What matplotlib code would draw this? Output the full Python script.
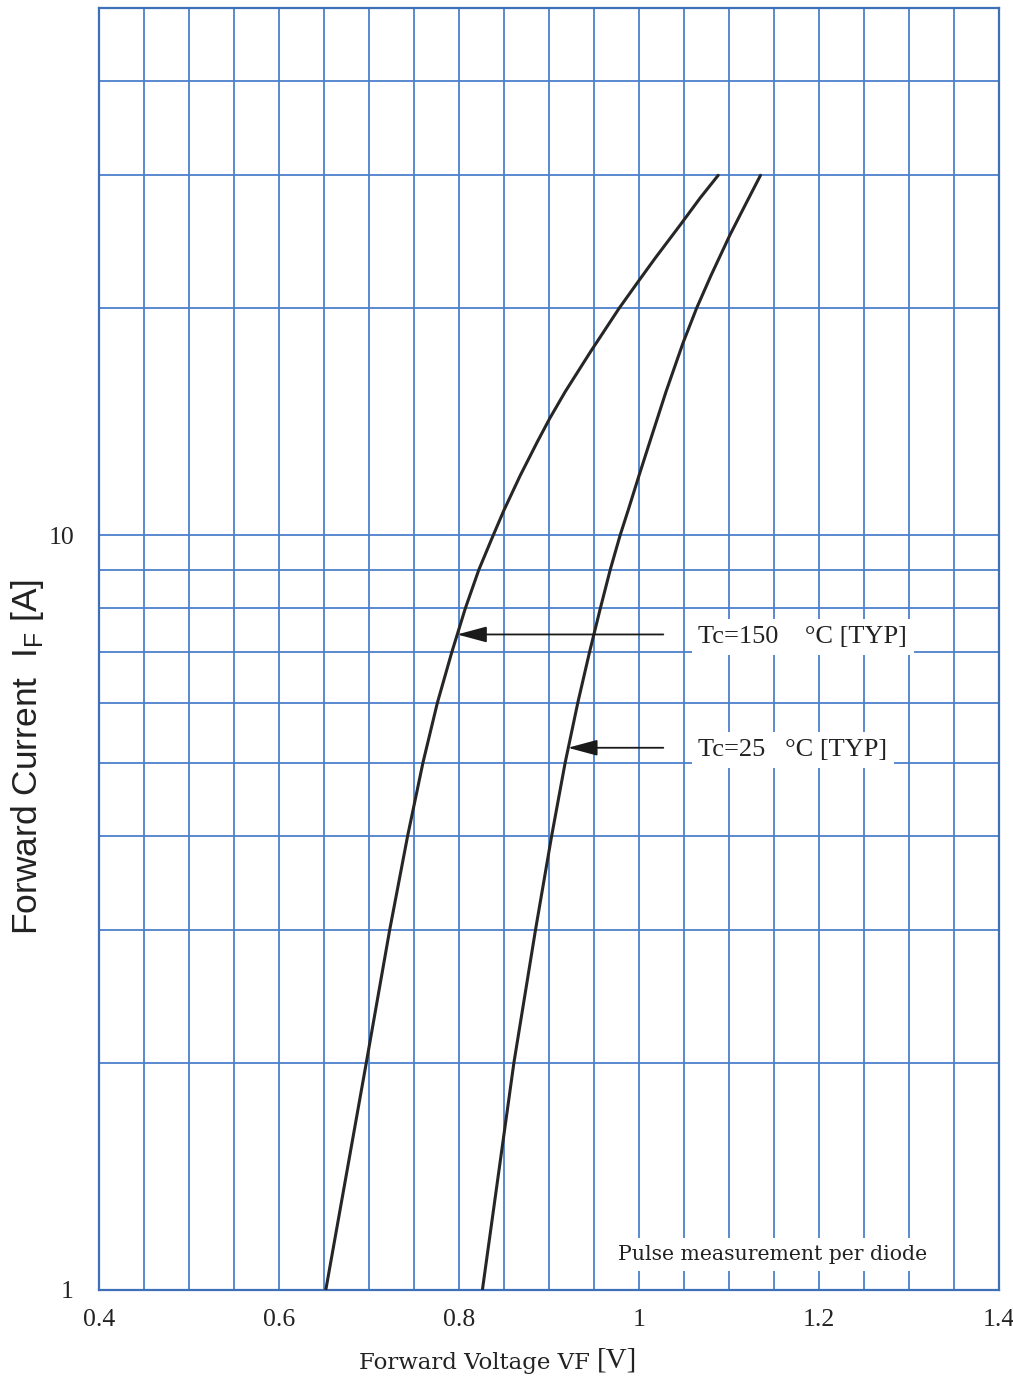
import matplotlib
matplotlib.use("Agg")
import matplotlib.pyplot as plt
import numpy as np

# forward current [A] vs forward voltage [V]
if_150 = [1, 2, 3, 4, 5, 6, 7, 8, 9, 10, 10.8, 12, 13.3, 14.3, 15.5, 17.5,
          20, 21.6, 23.3, 25.8, 28, 30]
vf_150 = [0.652, 0.697, 0.723, 0.743, 0.760, 0.776, 0.792, 0.807, 0.822,
          0.838, 0.850, 0.868, 0.887, 0.901, 0.918, 0.946, 0.978, 0.998,
          1.018, 1.046, 1.068, 1.088]

if_25 = [1, 2, 3, 4, 5, 6, 7, 8, 9, 10, 10.8, 12, 13.3, 15.5, 18, 20, 22.1,
         25, 27.4, 30]
vf_25 = [0.826, 0.861, 0.885, 0.903, 0.918, 0.932, 0.945, 0.957, 0.968,
         0.979, 0.988, 1.000, 1.012, 1.030, 1.049, 1.064, 1.080, 1.101,
         1.118, 1.135]

x_ticks = [0.4, 0.6, 0.8, 1.0, 1.2, 1.4]
x_labels = ["0.4", "0.6", "0.8", "1", "1.2", "1.4"]
y_ticks = [1, 10]
y_labels = ["1", "10"]
y_grid = [2, 3, 4, 5, 6, 7, 8, 9, 20, 30, 40]

label_150 = "Tc=150    \u00b0C [TYP]"
label_25 = "Tc=25   \u00b0C [TYP]"
note = "Pulse measurement per diode"

grid_c = "#4d80cc"
curve_c = "#262626"
serif = "Liberation Serif"

fig = plt.figure(figsize=(10.13, 13.82), dpi=100)
ax = fig.add_axes([0.0977, 0.0666, 0.8885, 0.9277])

for vf, cur in ((vf_150, if_150), (vf_25, if_25)):
    ax.plot(vf, cur, color=curve_c, lw=2.2, zorder=3,
            solid_joinstyle="round", solid_capstyle="round")

ax.set_yscale("log")
ax.set_xlim(0.4, 1.4)
ax.set_ylim(1, 50)

ax.set_xticks(x_ticks)
ax.set_xticklabels(x_labels)
ax.set_xticks(np.arange(0.45, 1.4, 0.05), minor=True)
ax.set_yticks(y_ticks)
ax.set_yticklabels(y_labels)
ax.set_yticks(y_grid, minor=True)
ax.yaxis.set_minor_formatter(plt.NullFormatter())

ax.grid(which="both", color=grid_c, lw=1.3)
ax.set_axisbelow(True)
ax.tick_params(which="both", length=0)
ax.tick_params(axis="x", pad=14, labelsize=18.5)
ax.tick_params(axis="y", pad=18, labelsize=18.5)
for lab in ax.get_xticklabels() + ax.get_yticklabels():
    lab.set_fontfamily(serif)
    lab.set_color("#222222")
for sp in ax.spines.values():
    sp.set_color("#3f6fb8")
    sp.set_linewidth(1.6)

# arrows pointing at the two curves
arrow = dict(arrowstyle="-|>,head_length=1.3,head_width=0.35",
             color="#1a1a1a", lw=1.3, mutation_scale=14, shrinkA=0, shrinkB=0)
ax.annotate("", xy=(0.798, 7.39), xytext=(1.027, 7.39), arrowprops=arrow,
            zorder=4)
ax.annotate("", xy=(0.921, 5.23), xytext=(1.027, 5.23), arrowprops=arrow,
            zorder=4)

box = dict(facecolor="white", edgecolor="none", pad=5)
ax.text(1.066, 7.33, label_150, fontsize=19, family=serif, va="center",
        ha="left", color="#222222", bbox=box, zorder=5)
ax.text(1.066, 5.2, label_25, fontsize=19, family=serif, va="center",
        ha="left", color="#222222", bbox=box, zorder=5)
ax.text(0.977, 1.115, note, fontsize=14.7, family="DejaVu Serif",
        va="center", ha="left", color="#222222",
        bbox=dict(facecolor="white", edgecolor="none", pad=5), zorder=5)

fig.text(28 / 1013, 1 - 757 / 1382,
         "Forward Current  I$_\\mathregular{F}$ [A]",
         rotation=90, ha="center", va="center", fontsize=25.5,
         family="Liberation Sans", color="#222222")
fig.text(590 / 1013, 1 - 1363 / 1382, "Forward Voltage VF", ha="right",
         va="center", fontsize=16.5, family="DejaVu Serif", color="#222222")
fig.text(597 / 1013, 1 - 1361 / 1382, "[V]", ha="left", va="center",
         fontsize=21, family=serif, color="#222222")

fig.savefig("out.png", dpi=100)
